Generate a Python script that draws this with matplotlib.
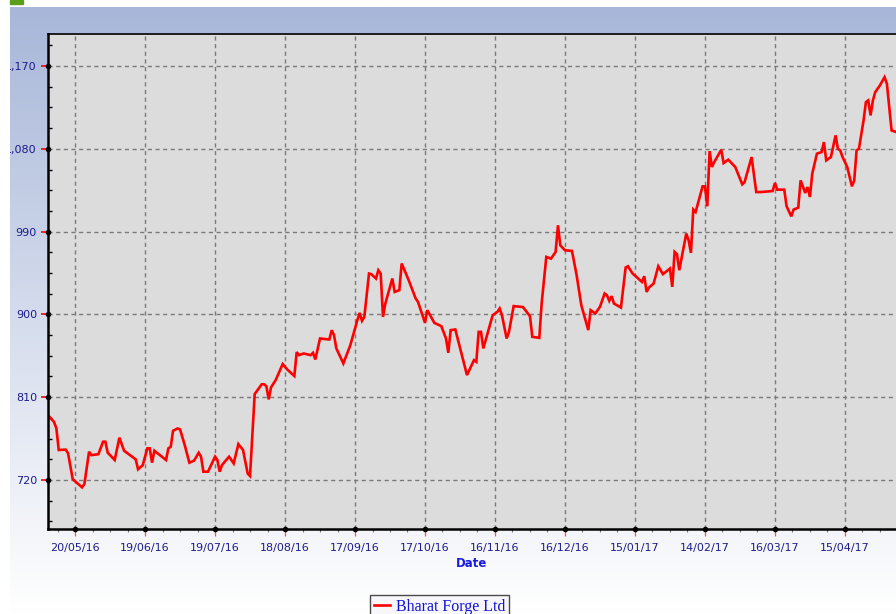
import numpy as np
import pandas as pd
import matplotlib
matplotlib.use("Agg")
import matplotlib.pyplot as plt
import matplotlib.dates as mdates
from matplotlib.patches import Rectangle
from matplotlib.ticker import FixedLocator, FuncFormatter

# days counted from 20/05/16, closing price
START = "2016-05-20"
days = [-11, -9, -8, -7, -4, -3, -1, 1, 3, 4, 6, 7, 10, 12, 13, 14, 17, 19, 21,
        26, 27, 29, 31, 32, 33, 34, 39, 40, 41, 42, 44, 45, 47, 49, 51, 53, 54,
        55, 57, 60, 61, 62, 63, 66, 68, 70, 72, 74, 75, 76, 77, 80, 81, 82, 83,
        84, 86, 89, 91, 94, 95, 96, 98, 101, 102, 103, 105, 109, 110, 111, 112,
        115, 118, 121, 122, 123, 124, 126, 127, 129, 130, 131, 132, 133, 136,
        137, 139, 140, 143, 146, 147, 150, 151, 154, 157, 159, 160, 161, 163,
        166, 168, 171, 172, 173, 174, 175, 179, 181, 182, 183, 185, 186, 188,
        192, 195, 196, 199, 200, 202, 204, 206, 207, 208, 210, 213, 215, 217,
        220, 221, 223, 225, 227, 228, 229, 230, 231, 234, 236, 237, 239, 243,
        244, 245, 246, 248, 250, 252, 255, 256, 257, 258, 259, 262, 263, 264,
        265, 266, 269, 270, 271, 272, 273, 274, 277, 278, 280, 283, 286, 287,
        290, 292, 294, 299, 300, 301, 304, 305, 307, 308, 310, 311, 313, 314,
        315, 316, 318, 320, 321, 322, 324, 326, 327, 328, 329, 331, 333, 334,
        335, 336, 338, 339, 340, 341, 342, 343, 345, 347, 348, 350, 352]
prices = [788.7, 783, 776, 752.6, 753, 749, 720.8, 716.4, 712, 715.6, 750.7, 747,
          748, 761.6, 761.6, 749.6, 741.7, 766, 751.8, 742.4, 731.6, 736, 754.4,
          754.4, 738.8, 751.8, 741.7, 754.4, 756, 773.5, 776, 775, 758, 738.8,
          741, 749.6, 745.3, 729, 729, 745.3, 741.7, 729, 736.3, 745.3, 738, 759,
          752.6, 727, 724.3, 769, 813.4, 824, 824, 822, 807.6, 820.6, 828.6, 846,
          840, 833, 859, 855.7, 857.5, 855.7, 858.2, 851, 873.8, 872.7, 882.8,
          877.4, 863, 846.7, 866.6, 893.7, 901.6, 893, 897.3, 944.4, 943.7, 939,
          948, 944.4, 897.3, 911.8, 939, 924.4, 926.3, 955.3, 937.2, 917.3,
          913.6, 890.8, 904.6, 890.8, 887.2, 873.8, 858.2, 882.9, 883.6, 853.9,
          834, 850.3, 848.4, 881, 881, 863, 899, 902.7, 906.4, 899, 873.8, 881,
          909, 908, 898, 875.6, 874.5, 911.8, 962.5, 960.6, 967.9, 996.9, 975.1,
          969.7, 969, 942.6, 910, 882.9, 904.6, 901, 908.2, 922.7, 920.8, 914.7,
          919.8, 911.8, 907.4, 950.9, 952.3, 944.4, 935.3, 941.5, 924.4, 929.2,
          933.5, 952.3, 943.7, 949.8, 929.9, 967.9, 965.4, 948, 987.9, 980.6,
          966.8, 1013.9, 1011.3, 1039.2, 1039.2, 1017.5, 1077.5, 1060.2, 1065.6,
          1079, 1064.5, 1068.2, 1060.2, 1041.4, 1043.9, 1071, 1033, 1033, 1034.1,
          1042.8, 1035.6, 1035.6, 1017.5, 1006.6, 1013.9, 1016, 1045.7, 1032,
          1038.4, 1027.6, 1053, 1074.7, 1076.4, 1087.3, 1067.4, 1071, 1094.6,
          1080, 1078.3, 1071, 1060.2, 1039.2, 1045.7, 1078.3, 1080, 1110.9,
          1130.7, 1132.6, 1116.3, 1132.6, 1141.6, 1148.9, 1157.9, 1150.7, 1100,
          1098.2]

x_tick_labels = ["20/05/16", "19/06/16", "19/07/16", "18/08/16", "17/09/16",
                 "17/10/16", "16/11/16", "16/12/16", "15/01/17", "14/02/17",
                 "16/03/17", "15/04/17"]
y_ticks = [720, 810, 900, 990, 1080, 1170]
series_name = "Bharat Forge Ltd"

W, H = 896, 614
fig = plt.figure(figsize=(W / 100, H / 100), dpi=100)
fig.patch.set_facecolor("white")

# gradient panel behind the chart
bg = fig.add_axes([10 / W, 0, 1 - 10 / W, 1 - 7 / H], zorder=-2)
top = np.array([168, 183, 217]) / 255
grad = np.linspace(0, 1, 256)[:, None]
img = top[None, None, :] * (1 - grad[..., None]) + grad[..., None]
bg.imshow(img, aspect="auto", extent=[0, 1, 0, 1], origin="upper")
bg.set_axis_off()

fig.patches.append(Rectangle((10 / W, 1 - 4 / H), 13 / W, 4 / H,
                             transform=fig.transFigure, color="#5a9e1a"))

ax = fig.add_axes([48 / W, 1 - 529 / H, 1 - 48 / W, (529 - 34) / H], zorder=1)
ax.set_facecolor("#dcdcdc")

start = mdates.date2num(pd.Timestamp(START))
xs = start + np.array(days, dtype=float)
line, = ax.plot(xs, prices, color="red", lw=1.9, solid_joinstyle="miter")

ax.set_xlim(start - 11.6, start + 351.9)
ax.set_ylim(666.7, 1204.8)

tick_pos = mdates.date2num(pd.to_datetime(x_tick_labels, format="%d/%m/%y"))
ax.xaxis.set_major_locator(FixedLocator(tick_pos))
ax.set_xticklabels(x_tick_labels)
ax.xaxis.set_minor_locator(FixedLocator(np.arange(tick_pos[0] - 15, start + 352, 7.5)))
ax.yaxis.set_major_locator(FixedLocator(y_ticks))
ax.yaxis.set_major_formatter(FuncFormatter(lambda v, p: f"{v:,.0f}"))
ax.yaxis.set_minor_locator(FixedLocator(np.arange(675, 1205, 22.5)))

lab_col = "#1c1c8c"
ax.tick_params(axis="x", which="major", direction="out", length=5, width=0.9,
               color="#ff5050", labelsize=8, labelcolor=lab_col, pad=5)
ax.tick_params(axis="y", which="major", direction="out", length=5, width=1.2,
               color="red", labelsize=8, labelcolor=lab_col, pad=3)
ax.tick_params(axis="x", which="minor", direction="out", length=2.5, width=0.8,
               color="#777777")
ax.tick_params(axis="y", which="minor", direction="in", length=3, width=1,
               color="black")

ax.grid(True, which="major", color="#7a7a7a", lw=1, ls=(0, (3, 2.5)))

for side in ["left", "bottom"]:
    ax.spines[side].set_linewidth(1.8)
    ax.spines[side].set_color("black")
ax.spines["top"].set_linewidth(1.2)
ax.spines["right"].set_visible(False)

# black dots where the major ticks meet the axes
ax.plot(tick_pos, np.zeros(len(tick_pos)), "o", ms=3, color="black",
        transform=ax.get_xaxis_transform(), clip_on=False, zorder=5)
ax.plot(np.zeros(len(y_ticks)), y_ticks, "o", ms=3, color="black",
        transform=ax.get_yaxis_transform(), clip_on=False, zorder=5)

ax.set_xlabel("Date", fontsize=8.5, fontweight="bold", color="#1a1ae0", labelpad=3)

for t in ax.get_yticklabels():
    t.set_clip_box(bg.bbox)

fig.legend([line], [series_name], loc="upper left",
           bbox_to_anchor=(370 / W, 1 - 595 / H), bbox_transform=fig.transFigure,
           frameon=True, fancybox=False, edgecolor="#4a4a4a", facecolor="#f6f6fb",
           framealpha=1, borderpad=0.25, borderaxespad=0, handlelength=1.0,
           handletextpad=0.35, prop={"family": "Liberation Serif", "size": 11.5},
           labelcolor="#1414d2")

fig.savefig("out.png", dpi=100)
